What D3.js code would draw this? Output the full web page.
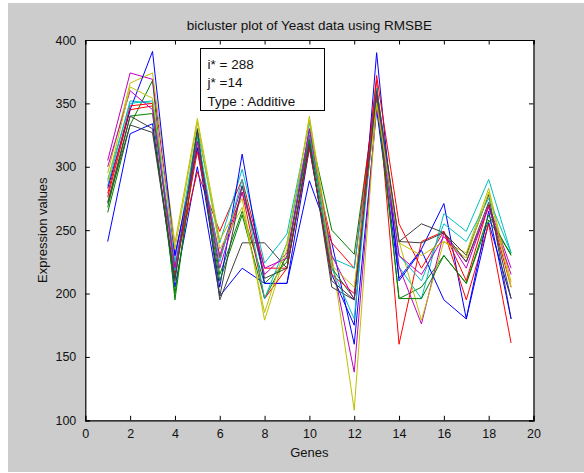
<!DOCTYPE html>
<html>
<head>
<meta charset="utf-8">
<script src="https://cdn.jsdelivr.net/npm/d3@7"></script>
<style>
  body { margin: 0; background: #fff; }
  svg { display: block; font-family: "Liberation Sans", Arial, sans-serif; }
</style>
</head>
<body>
<svg id="chart" width="584" height="473"></svg>
<script>
// genes on the x axis
var genes = d3.range(1, 20)

// MATLAB default colour cycle, used twice
var colors = ["#0000ff", "#008000", "#ff0000", "#00bfbf", "#bf00bf", "#bfbf00", "#404040"]

// expression values, one row per condition
var blueA    = [241, 326, 334, 205, 300, 198, 220, 208, 208, 289, 240, 160, 345, 212, 235, 271, 180, 256, 196]
var greenA   = [264, 333, 368, 195, 325, 215, 265, 208, 225, 330, 250, 231, 360, 196, 205, 230, 208, 258, 231]
var redA     = [276, 345, 348, 222, 296, 249, 290, 220, 220, 318, 240, 220, 368, 160, 241, 249, 195, 255, 161]
var cyanA    = [285, 352, 350, 225, 330, 240, 298, 224, 247, 335, 228, 220, 355, 221, 196, 263, 249, 290, 232]
var magentaA = [305, 374, 369, 230, 315, 230, 285, 215, 232, 325, 226, 138, 350, 221, 176, 248, 220, 270, 220]
var yellowA  = [295, 366, 374, 240, 338, 242, 275, 179, 235, 340, 230, 108, 352, 241, 179, 241, 232, 283, 209]
var grayA    = [271, 333, 327, 210, 330, 195, 240, 240, 220, 320, 205, 195, 362, 241, 255, 248, 230, 278, 180]
var blueB    = [283, 345, 391, 230, 315, 205, 310, 208, 208, 315, 215, 175, 390, 210, 234, 195, 180, 265, 180]
var greenB   = [268, 340, 342, 200, 320, 210, 262, 196, 230, 322, 220, 196, 355, 196, 196, 230, 208, 262, 230]
var redB     = [279, 348, 350, 215, 312, 228, 280, 196, 220, 315, 215, 200, 372, 255, 220, 249, 210, 270, 205]
var cyanB    = [290, 350, 352, 218, 325, 225, 290, 196, 240, 328, 220, 180, 362, 230, 210, 255, 241, 275, 232]
var magentaB = [300, 360, 345, 220, 320, 220, 280, 220, 228, 330, 230, 195, 358, 230, 215, 245, 225, 268, 215]
var yellowB  = [288, 363, 354, 235, 335, 235, 268, 185, 240, 337, 222, 205, 350, 240, 230, 241, 228, 280, 205]
var grayB    = [272, 340, 330, 212, 328, 198, 285, 212, 220, 318, 210, 195, 360, 241, 240, 248, 225, 272, 196]

var series = [blueA, greenA, redA, cyanA, magentaA, yellowA, grayA,
              blueB, greenB, redB, cyanB, magentaB, yellowB, grayB]

var xTicks = d3.range(0, 21, 2)
var yTicks = d3.range(100, 401, 50)

var svg = d3.select("#chart")

// grey figure background
svg.append("rect")
  .attr("x", 8).attr("y", 3)
  .attr("width", 576).attr("height", 469)
  .attr("fill", "#cccccc")

var plotLeft = 85.3, plotRight = 533.5, plotTop = 40, plotBottom = 420.3

var x = d3.scaleLinear().domain([0, 20]).range([plotLeft, plotRight])
var y = d3.scaleLinear().domain([100, 400]).range([plotBottom, plotTop])

svg.append("rect")
  .attr("x", plotLeft).attr("y", plotTop)
  .attr("width", plotRight - plotLeft).attr("height", plotBottom - plotTop)
  .attr("fill", "#fff")

var line = d3.line()
  .x(function(d, i) { return x(genes[i]) })
  .y(function(d) { return y(d) })

svg.append("g")
  .selectAll("path")
  .data(series)
  .enter().append("path")
  .attr("d", line)
  .attr("fill", "none")
  .attr("stroke", function(d, i) { return colors[i % colors.length] })
  .attr("stroke-width", 1)

// axes, ticks pointing inwards on all four sides
var tl = 4.5
svg.append("g")
  .attr("transform", "translate(0," + plotBottom + ")")
  .call(d3.axisBottom(x).tickValues(xTicks).tickSize(-tl).tickPadding(9))
svg.append("g")
  .attr("transform", "translate(0," + plotTop + ")")
  .call(d3.axisTop(x).tickValues(xTicks).tickSize(-tl).tickFormat(""))
svg.append("g")
  .attr("transform", "translate(" + plotLeft + ",0)")
  .call(d3.axisLeft(y).tickValues(yTicks).tickSize(-tl).tickPadding(9))
svg.append("g")
  .attr("transform", "translate(" + plotRight + ",0)")
  .call(d3.axisRight(y).tickValues(yTicks).tickSize(-tl).tickFormat(""))

svg.selectAll(".domain").attr("stroke", "#000").attr("stroke-width", 1.2)
svg.selectAll(".tick line").attr("stroke", "#000")
svg.selectAll(".tick text")
  .attr("fill", "#111")
  .style("font-size", "12.5px")
  .style("font-family", "'Liberation Sans', Arial, sans-serif")

// title and axis labels
svg.append("text")
  .attr("x", (plotLeft + plotRight) / 2).attr("y", 30)
  .attr("text-anchor", "middle")
  .style("font-size", "13.5px").attr("fill", "#111")
  .text("bicluster plot of Yeast data using RMSBE")

svg.append("text")
  .attr("x", (plotLeft + plotRight) / 2).attr("y", 457)
  .attr("text-anchor", "middle")
  .style("font-size", "13px").attr("fill", "#111")
  .text("Genes")

svg.append("text")
  .attr("transform", "translate(47," + (plotTop + plotBottom) / 2 + ") rotate(-90)")
  .attr("text-anchor", "middle")
  .style("font-size", "13px").attr("fill", "#111")
  .text("Expression values")

// annotation box
var note = svg.append("g")
note.append("rect")
  .attr("x", 200.5).attr("y", 48.5)
  .attr("width", 124).attr("height", 62)
  .attr("fill", "#fff").attr("stroke", "#000")
var noteLines = ["i* = 288", "j* =14", "Type : Additive"]
note.selectAll("text")
  .data(noteLines)
  .enter().append("text")
  .attr("x", 207.5)
  .attr("y", function(d, i) { return 68.5 + i * 18.5 })
  .style("font-size", "13.5px").attr("fill", "#111")
  .text(function(d) { return d })
</script>
</body>
</html>
